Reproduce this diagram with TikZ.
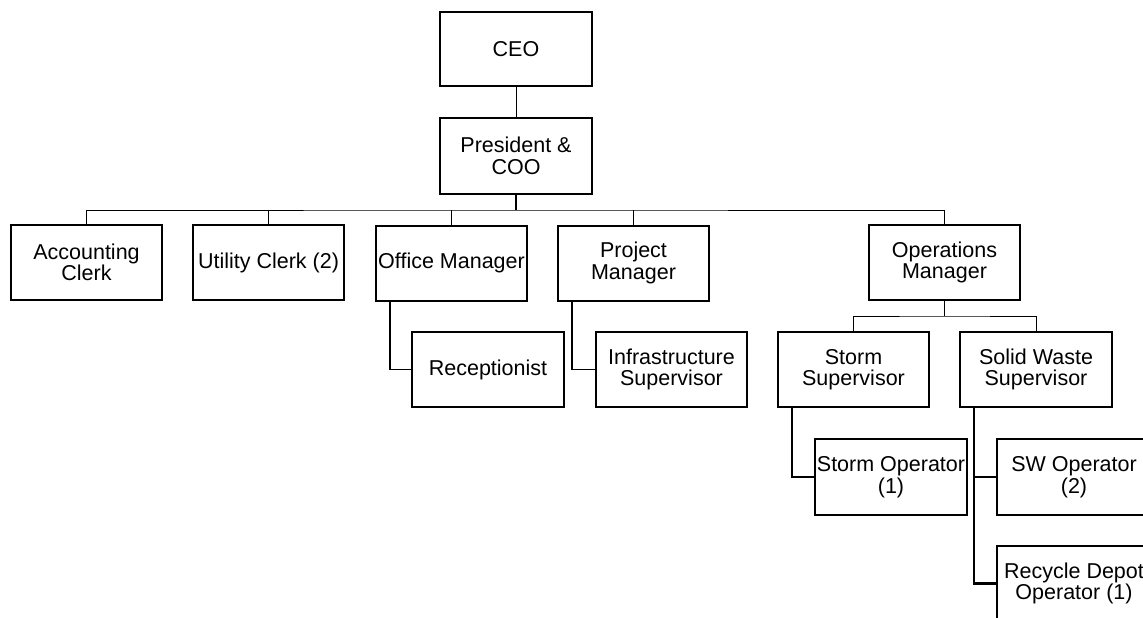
\documentclass[tikz,border=0pt]{standalone}
\usepackage{fontspec}
\setmainfont{Liberation Sans}
\begin{document}
\begin{tikzpicture}[x=1pt,y=-1pt,
  box/.style={draw, line width=2pt, minimum width=151pt, minimum height=75pt,
    align=center, inner sep=0pt, font=\fontsize{21.5}{21.5}\selectfont},
  conn/.style={line width=1pt},
  thickconn/.style={line width=2.2pt}]
\useasboundingbox (0,0) rectangle (1143,618);
\node[box, minimum width=152pt, minimum height=74pt] (ceo) at (516,49) {CEO};
\node[box, minimum width=152pt, minimum height=76pt] (pres) at (516,156) {President \&\\COO};
\node[box] (acc) at (86.5,262.5) {Accounting\\Clerk};
\node[box] (util) at (268.5,262.5) {Utility Clerk (2)};
\node[box] (office) at (451.5,263) {Office Manager};
\node[box] (proj) at (633.5,263) {Project\\Manager};
\node[box] (ops) at (944.5,262.5) {Operations\\Manager};
\node[box, minimum width=152pt] (recep) at (488,369.5) {Receptionist};
\node[box] (infra) at (671.5,369.5) {Infrastructure\\Supervisor};
\node[box] (storm) at (853.5,369.5) {Storm\\Supervisor};
\node[box, minimum width=152pt] (solid) at (1036,369.5) {Solid Waste\\Supervisor};
\node[box, minimum width=152pt, minimum height=76pt] (stormop) at (891,477) {Storm Operator\\(1)};
\node[box, minimum width=154pt, minimum height=76pt] (swop) at (1074,477) {SW Operator\\(2)};
\node[box, minimum width=154pt] (recycle) at (1074,583.5) {Recycle Depot\\Operator (1)};

\coordinate (bus) at (516,210);
\coordinate (opsbus) at (944.5,316);
\coordinate (swtrunk) at ([xshift=15pt]solid.south west);
\draw[conn] (ceo) -- (pres);
\draw[thickconn] (pres.south) -- (bus);
\draw[conn] (acc.north) |- (bus) -| (ops.north);
\draw[conn] (util.north) -- (util.north |- bus);
\draw[conn] (office.north) -- (office.north |- bus);
\draw[conn] (proj.north) -- (proj.north |- bus);
\draw[conn, line width=1.6pt] (ops.south) -- (opsbus);
\draw[conn] (storm.north) |- (opsbus) -| (solid.north);
\draw[conn, line width=1.4pt] (recep.west) -| ([xshift=15pt]office.south west);
\draw[conn, line width=1.4pt] (infra.west) -| ([xshift=15pt]proj.south west);
\draw[conn, line width=1.4pt] (stormop.west) -| ([xshift=15pt]storm.south west);
\draw[thickconn] (recycle.west) -| (swtrunk);
\draw[conn, line width=1.4pt] (swop.west) -- (swop.west -| swtrunk);
\end{tikzpicture}
\end{document}
